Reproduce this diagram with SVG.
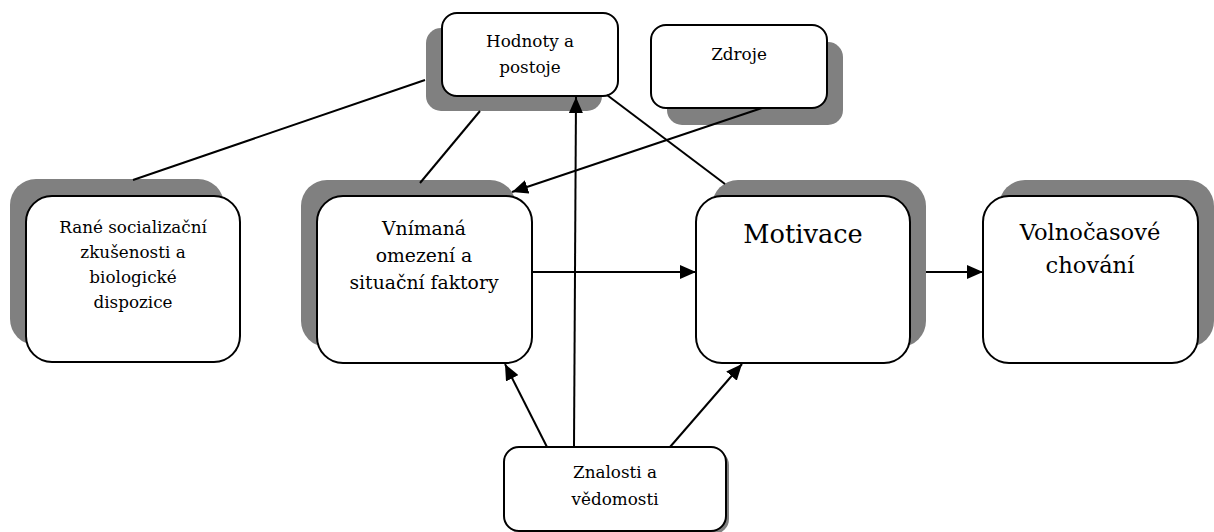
<svg xmlns="http://www.w3.org/2000/svg" width="1214" height="532" viewBox="0 0 1214 532">
<style>
.shadow{fill:#808080}
.box{fill:#fff;stroke:#000;stroke-width:2}
text{font-family:'DejaVu Serif','Liberation Serif',serif;fill:#000;text-anchor:middle}
.conn{stroke:#000;stroke-width:2;fill:none}
</style>
<defs>
<marker id="arr" markerUnits="userSpaceOnUse" markerWidth="18" markerHeight="14" refX="16" refY="7" orient="auto">
<path d="M0,0 L16,7 L0,14 Z" fill="#000"/>
</marker>
</defs>
<rect width="1214" height="532" fill="#fff"/>
<g id="node-rane">
<rect class="shadow" x="10" y="179" width="214" height="166" rx="26"/>
<rect class="box" x="26" y="196" width="214" height="166" rx="26"/>
<text font-size="16.8"><tspan x="133" y="233">Rané socializační</tspan><tspan x="133" y="258">zkušenosti a</tspan><tspan x="133" y="283">biologické</tspan><tspan x="133" y="308">dispozice</tspan></text>
</g>
<g id="node-vnimana">
<rect class="shadow" x="301" y="180" width="215" height="167" rx="26"/>
<rect class="box" x="317" y="196" width="215" height="167" rx="26"/>
<text font-size="18.8"><tspan x="424" y="235">Vnímaná</tspan><tspan x="424" y="262">omezení a</tspan><tspan x="424" y="289">situační faktory</tspan></text>
</g>
<g id="node-hodnoty">
<rect class="shadow" x="426" y="28" width="176" height="83" rx="15"/>
<rect class="box" x="442" y="13" width="176" height="83" rx="15"/>
<text font-size="16.8"><tspan x="530" y="47">Hodnoty a</tspan><tspan x="530" y="73">postoje</tspan></text>
</g>
<g id="node-zdroje">
<rect class="shadow" x="667" y="42" width="176" height="83" rx="15"/>
<rect class="box" x="651" y="25" width="176" height="83" rx="15"/>
<text font-size="16.8" x="739" y="60">Zdroje</text>
</g>
<g id="node-motivace">
<rect class="shadow" x="712" y="180" width="214" height="167" rx="26"/>
<rect class="box" x="696" y="196" width="214" height="167" rx="26"/>
<text font-size="25.6" x="803" y="243">Motivace</text>
</g>
<g id="node-volnocasove">
<rect class="shadow" x="999" y="180" width="215" height="167" rx="26"/>
<rect class="box" x="983" y="196" width="215" height="167" rx="26"/>
<text font-size="22.6"><tspan x="1090" y="240">Volnočasové</tspan><tspan x="1090" y="273">chování</tspan></text>
</g>
<g id="node-znalosti">
<rect class="shadow" x="507" y="450" width="222" height="84" rx="15"/>
<rect class="box" x="504" y="447" width="222" height="84" rx="15"/>
<text font-size="16.8"><tspan x="615" y="478">Znalosti a</tspan><tspan x="615" y="505">vědomosti</tspan></text>
</g>
<g id="connectors">
<line class="conn" x1="133" y1="180" x2="425" y2="80"/>
<line class="conn" x1="480" y1="111" x2="420" y2="183"/>
<line class="conn" x1="607" y1="95" x2="725" y2="184"/>
<line class="conn" x1="762" y1="108" x2="512" y2="192" marker-end="url(#arr)"/>
<line class="conn" x1="574" y1="447" x2="576" y2="97" marker-end="url(#arr)"/>
<line class="conn" x1="547" y1="447" x2="505" y2="364" marker-end="url(#arr)"/>
<line class="conn" x1="670" y1="447" x2="742" y2="364" marker-end="url(#arr)"/>
<line class="conn" x1="532" y1="272" x2="696" y2="272" marker-end="url(#arr)"/>
<line class="conn" x1="926" y1="272" x2="983" y2="272" marker-end="url(#arr)"/>
</g>
</svg>
